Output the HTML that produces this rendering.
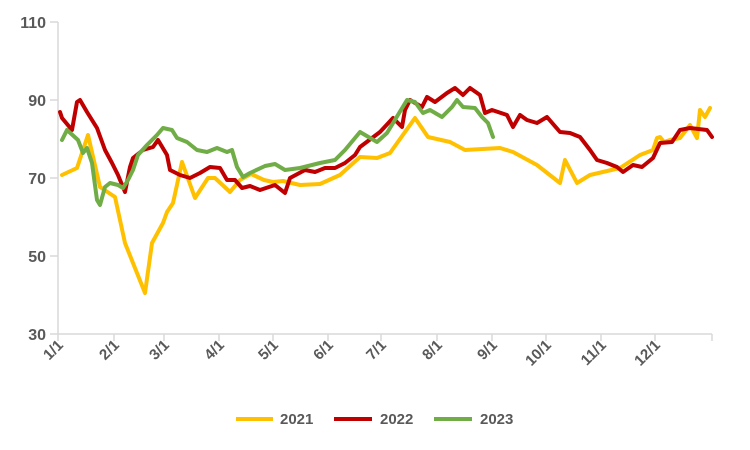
<!DOCTYPE html>
<html><head><meta charset="utf-8"><style>
html,body{margin:0;padding:0;background:#fff}
svg{display:block;font-family:"Liberation Sans",sans-serif;font-weight:bold;fill:#595959}
</style></head><body>
<svg width="750" height="450" viewBox="0 0 750 450">
<g font-size="16" text-anchor="end">
<text x="46" y="28">110</text><text x="46" y="106">90</text><text x="46" y="184">70</text><text x="46" y="262">50</text><text x="46" y="340">30</text>
</g>
<g stroke="#d9d9d9" stroke-width="1.5" fill="none">
<line x1="58" y1="22" x2="58" y2="334"/>
<line x1="50" y1="22" x2="58" y2="22"/><line x1="50" y1="100" x2="58" y2="100"/><line x1="50" y1="178" x2="58" y2="178"/><line x1="50" y1="256" x2="58" y2="256"/><line x1="50" y1="334" x2="58" y2="334"/>
<line x1="58" y1="334" x2="712" y2="334"/>
<path d="M58 334v7M114 334v7M164 334v7M219 334v7M273 334v7M328 334v7M381 334v7M437 334v7M492 334v7M546 334v7M601 334v7M655 334v7M712 334v7"/>
</g>
<g font-size="15" text-anchor="end">
<text transform="translate(64,346) rotate(-45)">1/1</text>
<text transform="translate(120,346) rotate(-45)">2/1</text>
<text transform="translate(170,346) rotate(-45)">3/1</text>
<text transform="translate(225,346) rotate(-45)">4/1</text>
<text transform="translate(279,346) rotate(-45)">5/1</text>
<text transform="translate(334,346) rotate(-45)">6/1</text>
<text transform="translate(387,346) rotate(-45)">7/1</text>
<text transform="translate(443,346) rotate(-45)">8/1</text>
<text transform="translate(498,346) rotate(-45)">9/1</text>
<text transform="translate(552,346) rotate(-45)">10/1</text>
<text transform="translate(607,346) rotate(-45)">11/1</text>
<text transform="translate(661,346) rotate(-45)">12/1</text>
</g>
<g fill="none" stroke-width="4" stroke-linejoin="round" stroke-linecap="round">
<polyline stroke="#FFC000" points="62,175 77,168 88,135 100,187 115,197 125,243 145,293 152,243 163,223 167,212 173,203 182,162 195,198 208,178 215,178 230,192 240,180 251,174 264,180 273,182 283,181 300,185 320,184 340,175 360,157 377,158 390,153 415,118 428,137 450,142 465,150 500,148 513,152 537,165 560,183 565,160 577,183 590,175 620,168 640,155 653,150 657,138 660,137 664,142 670,140 680,138 690,125 697,138 700,110 705,117 710,108"/>
<polyline stroke="#C00000" points="60,112 62,118 72,130 77,102 80,100 87,112 97,128 105,150 112,163 118,175 125,192 130,167 133,158 143,150 153,147 158,140 167,155 170,170 180,175 190,178 200,173 210,167 220,168 227,180 235,180 242,188 250,186 260,190 275,185 285,193 290,178 305,170 315,172 325,168 335,168 345,163 355,155 360,147 380,132 393,118 402,127 405,110 410,100 422,107 427,97 435,102 447,93 455,88 463,95 470,88 480,95 485,113 492,110 507,115 513,127 520,115 527,120 537,123 547,117 560,132 570,133 580,137 590,150 597,160 607,163 617,167 623,172 633,165 642,167 653,158 660,143 672,142 680,130 690,128 707,130 712,137"/>
<polyline stroke="#70AD47" points="62,140 67,130 78,140 83,153 87,148 92,163 97,200 100,205 105,187 110,183 118,185 123,188 128,180 133,170 138,155 147,145 157,135 163,128 172,130 177,138 187,142 197,150 207,152 217,148 227,152 232,150 237,167 243,177 250,173 265,166 275,164 285,170 300,168 320,163 335,160 345,150 355,138 360,132 377,142 387,133 407,100 415,102 423,113 430,110 442,117 452,107 457,100 463,107 475,108 482,117 488,123 493,137"/>
</g>
<g stroke-width="4">
<line x1="236" y1="419" x2="273" y2="419" stroke="#FFC000"/>
<line x1="334" y1="419" x2="372" y2="419" stroke="#C00000"/>
<line x1="434" y1="419" x2="472" y2="419" stroke="#70AD47"/>
</g>
<g font-size="15">
<text x="280" y="424">2021</text><text x="380" y="424">2022</text><text x="480" y="424">2023</text>
</g>
</svg>
</body></html>
